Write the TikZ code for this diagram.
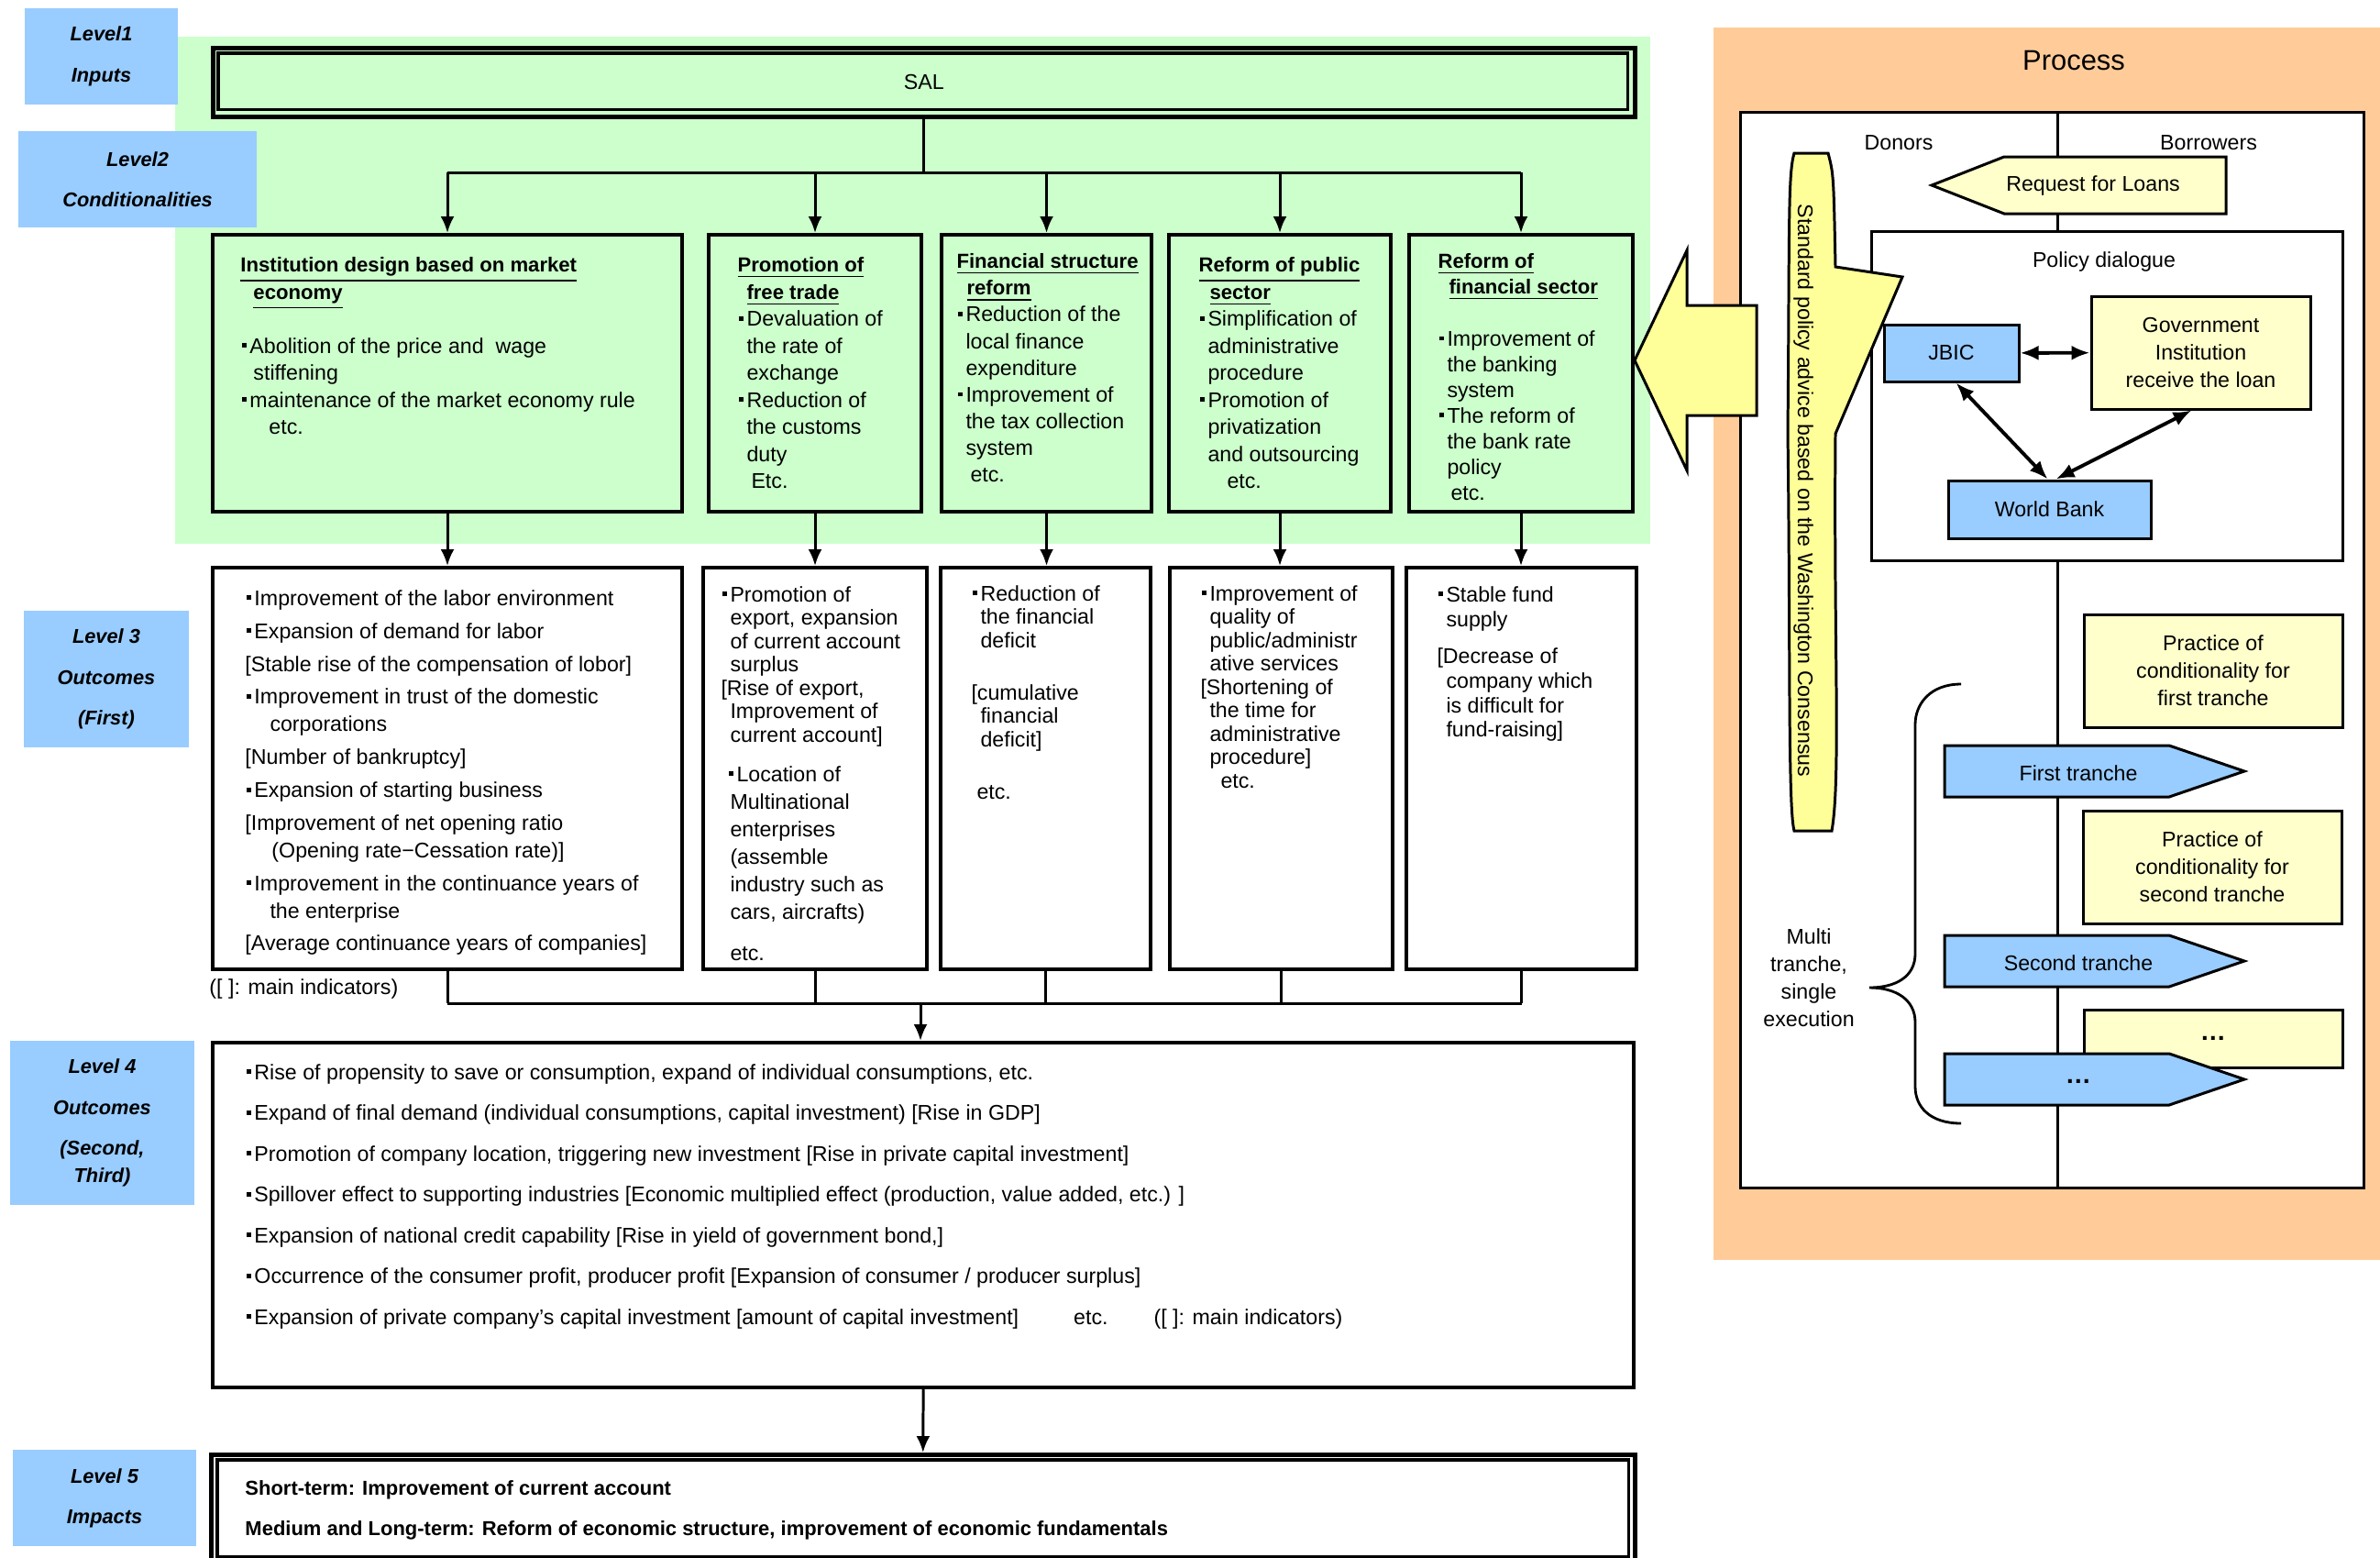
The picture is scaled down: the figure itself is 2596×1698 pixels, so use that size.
\documentclass[tikz,border=0pt]{standalone}
\usepackage{fontspec}
\setmainfont{Liberation Sans}
\usetikzlibrary{arrows.meta}
\usetikzlibrary{calc}
\definecolor{lvlblue}{RGB}{153, 204, 255}
\definecolor{condgreen}{RGB}{204, 255, 204}
\definecolor{procorange}{RGB}{255, 204, 153}
\definecolor{paleyellow}{RGB}{255, 255, 204}
\definecolor{advyellow}{RGB}{255, 255, 153}
\newcommand{\itembul}{\makebox[1mm][l]{\hspace*{0.15mm}\raisebox{1.7pt}{\rule{1.4pt}{1.4pt}}}}
\newcommand{\itemind}{\hspace*{1mm}}
\newcommand{\headline}[1]{\underline{\fontsize{6.3}{8}\selectfont\bfseries #1}}

\begin{document}
\begin{tikzpicture}[x=0.1mm, y=-0.1mm, line width=0.85pt,
  lvl/.style={fill=lvlblue, align=center, inner sep=0pt, font=\fontsize{6.2}{12.6}\selectfont\bfseries\itshape},
  condbox/.style={draw, line width=1.15pt, fill=condgreen, inner sep=0pt, anchor=north west},
  outbox/.style={draw, line width=1.15pt, fill=white, inner sep=0pt, anchor=north west},
  body/.style={anchor=north west, align=left, inner sep=0pt, font=\fontsize{6.6}{8.4}\selectfont},
  tight/.style={body, font=\fontsize{6.6}{7.25}\selectfont},
  proc/.style={inner sep=0pt, align=center, font=\fontsize{6.6}{8.5}\selectfont},
  block/.style={draw, proc},
  flow/.style={-{Latex[length=1.8mm,width=1.5mm]}},
  talk/.style={line width=1.1pt, {Latex[length=2mm,width=1.6mm]}-{Latex[length=2mm,width=1.6mm]}}]
  \useasboundingbox (0,0) rectangle (2596,1698);

  % backgrounds
  \fill[condgreen] (191,40) rectangle (1800,593);
  \fill[procorange] (1869,30) rectangle (2596,1374);

  % level labels
  \node[lvl, minimum width=16.7mm, minimum height=10.5mm] (lv1) at (110.5,61.5) {Level1\\Inputs};
  \node[lvl, minimum width=26mm, minimum height=10.5mm] (lv2) at (150,195.5) {Level2\\Conditionalities};
  \node[lvl, minimum width=18mm, minimum height=14.9mm] (lv3) at (116,740.5) {Level 3\\Outcomes\\(First)};
  \node[lvl, minimum width=20.1mm, minimum height=17.9mm] (lv4) at (111.5,1224.5) {Level 4\\Outcomes\\(Second,\\[-4.1pt]Third)};
  \node[lvl, minimum width=20mm, minimum height=10.5mm] (lv5) at (114,1633.5) {Level 5\\Impacts};

  % SAL
  \node[draw, line width=1.3pt, fill=condgreen, anchor=north west, inner sep=0pt,
        minimum width=155.1mm, minimum height=7.5mm, font=\fontsize{6.6}{8}\selectfont] (sal) at (230,50) {SAL};
  \draw[line width=1pt] ([shift={(8,8)}]sal.north west) rectangle ([shift={(-10,-10)}]sal.south east);

  % conditionalities
  \node[condbox, minimum width=51.2mm, minimum height=30.2mm] (c1) at (230,254) {};
  \node[condbox, minimum width=23.2mm, minimum height=30.2mm] (c2) at (771,254) {};
  \node[condbox, minimum width=22.9mm, minimum height=30.2mm] (c3) at (1025,254) {};
  \node[condbox, minimum width=24.2mm, minimum height=30.2mm] (c4) at (1273,254) {};
  \node[condbox, minimum width=24.4mm, minimum height=30.2mm] (c5) at (1535,254) {};

  \coordinate (split) at (1003,188);
  \draw (sal.south) -- (sal.south |- split);
  \draw (c1.north |- split) -- (c5.north |- split);
  \foreach \c in {c1,c2,c3,c4,c5}
    \draw[flow] (\c.north |- split) -- (\c.north);

  \node[body] (t1) at (261,279) {\headline{Institution design based on market}\\
    \hspace*{1.4mm}\headline{economy}\\[8.4pt]
    \itembul Abolition of the price and\ \ wage\\
    \hspace*{1.4mm}stiffening\\
    \itembul maintenance of the market economy rule\\
    \hspace*{3.1mm}etc.};
  \node[body] (t2) at (803,279) {\headline{Promotion of}\\
    \itemind\headline{free trade}\\
    \itembul Devaluation of\\
    \itemind the rate of\\
    \itemind exchange\\
    \itembul Reduction of\\
    \itemind the customs\\
    \itemind duty\\
    \hspace*{1.5mm}Etc.};
  \node[body, font=\fontsize{6.6}{8.3}\selectfont] (t3) at (1042,275) {\headline{Financial structure}\\
    \hspace*{1.1mm}\headline{reform}\\
    \itembul Reduction of the\\
    \itemind local finance\\
    \itemind expenditure\\
    \itembul Improvement of\\
    \itemind the tax collection\\
    \itemind system\\
    \hspace*{1.5mm}etc.};
  \node[body] (t4) at (1306,279) {\headline{Reform of public}\\
    \hspace*{1.2mm}\headline{sector}\\
    \itembul Simplification of\\
    \itemind administrative\\
    \itemind procedure\\
    \itembul Promotion of\\
    \itemind privatization\\
    \itemind and outsourcing\\
    \hspace*{3.1mm}etc.};
  \node[body, font=\fontsize{6.6}{7.95}\selectfont] (t5) at (1567,275) {\headline{Reform of}\\
    \hspace*{1.2mm}\headline{financial sector}\\[2.9mm]
    \itembul Improvement of\\
    \itemind the banking\\
    \itemind system\\
    \itembul The reform of\\
    \itemind the bank rate\\
    \itemind policy\\
    \hspace*{1.4mm}etc.};

  % outcomes (first)
  \node[outbox, minimum width=51.2mm, minimum height=43.8mm] (o1) at (230,617) {};
  \node[outbox, minimum width=24.4mm, minimum height=43.8mm] (o2) at (765,617) {};
  \node[outbox, minimum width=22.9mm, minimum height=43.8mm] (o3) at (1024,617) {};
  \node[outbox, minimum width=24.3mm, minimum height=43.8mm] (o4) at (1274,617) {};
  \node[outbox, minimum width=25.1mm, minimum height=43.8mm] (o5) at (1532,617) {};
  \foreach \from/\to in {c1/o1, c2/o2, c3/o3, c4/o4, c5/o5}
    \draw[flow] (\from.south) -- (\from.south |- \to.north);

  \node[body, font=\fontsize{6.6}{8.5}\selectfont] (u1) at (266,642) {\itembul Improvement of the labor environment\\[0.6mm]
    \itembul Expansion of demand for labor\\[0.6mm]
    {[}Stable rise of the compensation of lobor]\\[0.6mm]
    \itembul Improvement in trust of the domestic\\
    \hspace*{2.7mm}corporations\\[0.6mm]
    {[}Number of bankruptcy]\\[0.6mm]
    \itembul Expansion of starting business\\[0.6mm]
    {[}Improvement of net opening ratio\\
    \hspace*{2.9mm}(Opening rate−Cessation rate)]\\[0.6mm]
    \itembul Improvement in the continuance years of\\
    \hspace*{2.7mm}the enterprise\\[0.6mm]
    {[}Average continuance years of companies]};
  \node[tight] (u2) at (785,638) {\itembul Promotion of\\
    \itemind export, expansion\\
    \itemind of current account\\
    \itemind surplus\\
    {[}Rise of export,\\
    \itemind Improvement of\\
    \itemind current account]\\[1.75mm]
    \hspace*{0.7mm}\itembul Location of\\[0.45mm]
    \itemind Multinational\\[0.45mm]
    \itemind enterprises\\[0.45mm]
    \itemind (assemble\\[0.45mm]
    \itemind industry such as\\[0.45mm]
    \itemind cars, aircrafts)\\[1.95mm]
    \itemind etc.};
  \node[tight] (u3) at (1058,637) {\itembul Reduction of\\
    \itemind the financial\\
    \itemind deficit\\[3.15mm]
    {[}cumulative\\
    \itemind financial\\
    \itemind deficit]\\[3.15mm]
    \hspace*{0.6mm}etc.};
  \node[tight] (u4) at (1308,637) {\itembul Improvement of\\
    \itemind quality of\\
    \itemind public/administr\\
    \itemind ative services\\
    {[}Shortening of\\
    \itemind the time for\\
    \itemind administrative\\
    \itemind procedure]\\
    \hspace*{2.2mm}etc.};
  \node[tight, font=\fontsize{6.6}{7.6}\selectfont] (u5) at (1566,638) {\itembul Stable fund\\
    \itemind supply\\[1.4mm]
    {[}Decrease of\\
    \itemind company which\\
    \itemind is difficult for\\
    \itemind fund-raising]};
  \node[body] (note3) at (227,1066) {([ ]: main indicators)};

  % outcomes (second, third)
  \node[outbox, line width=1.2pt, minimum width=155mm, minimum height=37.6mm] (l4) at (230,1135) {};
  \coordinate (merge) at (1004,1094);
  \foreach \o in {o1,o2,o3,o4,o5}
    \draw (\o.south) -- (\o.south |- merge);
  \draw (o1.south |- merge) -- (o5.south |- merge);
  \draw[flow] (merge) -- (merge |- l4.north);
  \node[body, font=\fontsize{6.6}{12.65}\selectfont] (v4) at (266,1159) {\itembul Rise of propensity to save or consumption, expand of individual consumptions, etc.\\
    \itembul Expand of final demand (individual consumptions, capital investment) [Rise in GDP]\\
    \itembul Promotion of company location, triggering new investment [Rise in private capital investment]\\
    \itembul Spillover effect to supporting industries [Economic multiplied effect (production, value added, etc.) ]\\
    \itembul Expansion of national credit capability [Rise in yield of government bond,]\\
    \itembul Occurrence of the consumer profit, producer profit [Expansion of consumer / producer surplus]\\
    \itembul Expansion of private company’s capital investment [amount of capital investment]\hspace*{6mm}etc.\hspace*{5mm}([ ]: main indicators)};

  % impacts
  \node[draw, line width=1.3pt, anchor=north west, inner sep=0pt, minimum width=155.3mm, minimum height=11.8mm] (l5) at (228,1584) {};
  \draw[line width=1pt] ([shift={(9,8)}]l5.north west) rectangle ([shift={(-9,-9)}]l5.south east);
  \draw[flow] (l4.south) -- (l5.north);
  \node[body, font=\fontsize{6.25}{12.5}\selectfont\bfseries] (v5) at (266,1613) {Short-term: Improvement of current account\\
    Medium and Long-term: Reform of economic structure, improvement of economic fundamentals};

  % process panel
  \node[proc, font=\fontsize{8.8}{10}\selectfont] (ptitle) at (2262,66) {Process};
  \node[draw, fill=white, anchor=north west, inner sep=0pt, minimum width=68mm, minimum height=117.3mm] (pbox) at (1897,121) {};
  \draw (2244,121) -- (2244,1294);
  \node[proc] (donors) at (2071,156) {Donors};
  \node[proc] (borrowers) at (2409,156) {Borrowers};
  \draw[fill=paleyellow] (2107,202) -- (2186,171) -- (2428,171) -- (2428,233) -- (2186,233) -- cycle;
  \node[proc] (req) at (2283,203) {Request for Loans};

  \node[draw, fill=white, anchor=north west, inner sep=0pt, minimum width=51.4mm, minimum height=35.9mm] (pd) at (2040,251) {};
  \node[proc] (pdtitle) at (2295,285) {Policy dialogue};
  \node[block, fill=lvlblue, minimum width=14.7mm, minimum height=6.2mm] (jbic) at (2128.5,385) {JBIC};
  \node[block, fill=paleyellow, minimum width=23.9mm, minimum height=12.3mm] (gov) at (2400.5,384.5) {Government\\Institution\\receive the loan};
  \node[block, fill=lvlblue, minimum width=22.1mm, minimum height=6.3mm] (wb) at (2235.5,555.5) {World Bank};
  \draw[talk] (jbic) -- (gov);
  \draw[talk] ([xshift=0.5mm]jbic.south) -- ([xshift=-0.2mm]wb.north);
  \draw[talk] ([xshift=-1mm]gov.south) -- ([xshift=0.7mm]wb.north);

  % tranches
  \node[block, fill=paleyellow, minimum width=28.2mm, minimum height=12.3mm] (p1) at (2414,731.5) {Practice of\\conditionality for\\first tranche};
  \node[block, fill=paleyellow, minimum width=28.2mm, minimum height=12.3mm] (p2) at (2413,945.5) {Practice of\\conditionality for\\second tranche};
  \node[block, fill=paleyellow, minimum width=28.2mm, minimum height=6.3mm, font=\fontsize{8}{9}\selectfont\bfseries] (p3) at (2414,1132.5) {…};
  \foreach \y/\nm/\lbl in {841/tr1/First tranche, 1048/tr2/Second tranche, 1177/tr3/{\fontsize{8}{9}\selectfont\bfseries …}} {
    \draw[fill=lvlblue] (2121,\y-28) -- (2366,\y-28) -- (2448,\y) -- (2366,\y+28) -- (2121,\y+28) -- cycle;
    \node[proc] (\nm) at (2267,\y+2) {\lbl};
  }
  \draw[line width=0.8pt] (2139,746) .. controls (2105,746) and (2089,768) .. (2089,790) -- (2089,1040)
    .. controls (2089,1065) and (2068,1077) .. (2039,1077) .. controls (2068,1077) and (2089,1090) .. (2089,1115)
    -- (2089,1185) .. controls (2089,1207) and (2105,1225) .. (2139,1225);
  \node[proc] (multi) at (1973,1066) {Multi\\tranche,\\single\\execution};

  % standard policy advice
  \draw[fill=advyellow] (1957,167) -- (1994,167) .. controls (2000,190) .. (2002,291) -- (2075,302) -- (2002,473)
    .. controls (2000,700) and (2008,850) .. (1998,906) -- (1957,906)
    .. controls (1950,880) and (1953,700) .. (1950,472) .. controls (1952,250) and (1950,190) .. (1957,167) -- cycle;
  \node[proc, rotate=-90] (advice) at (1967,535) {Standard policy advice based on the Washington Consensus};

  % big arrow
  \draw[fill=advyellow] (1783,393) -- (1840,273) -- (1840,333) -- (1916,333) -- (1916,453) -- (1840,453) -- (1840,513) -- cycle;
\end{tikzpicture}
\end{document}
